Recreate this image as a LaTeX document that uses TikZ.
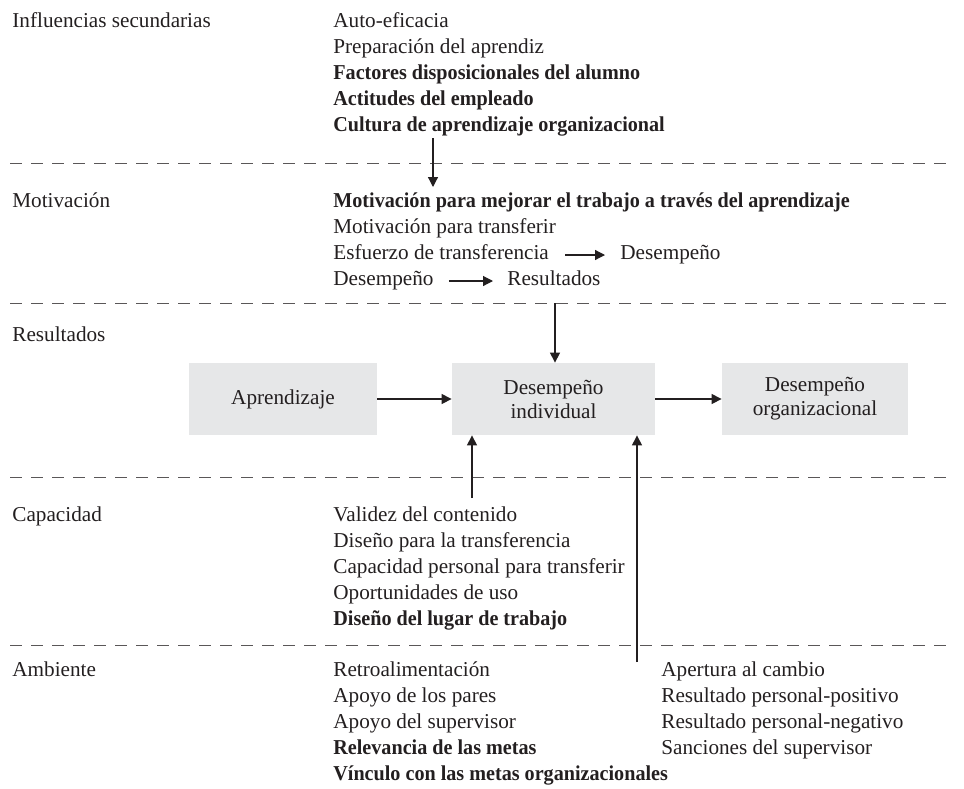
\documentclass[tikz,border=0pt]{standalone}
\usepackage{fontspec}
\setmainfont{Liberation Serif}[BoldFeatures={FakeStretch=0.95}]
\usetikzlibrary{arrows.meta}

\definecolor{boxgray}{HTML}{E6E7E8}
\definecolor{ink}{HTML}{231F20}

\begin{document}
\begin{tikzpicture}[
  x=0.5pt, y=-0.5pt,
  txt/.style={anchor=west, inner sep=0pt, text height=0.7em, text depth=0.25em, text=ink, font=\fontsize{10.6}{12.5}\selectfont},
  bld/.style={txt, font=\fontsize{10.6}{12.5}\selectfont\bfseries},
  box/.style={fill=boxgray, draw=none, inner sep=0pt, minimum height=36pt, align=center, text=ink, font=\fontsize{10.6}{12}\selectfont},
  e/.style={line width=0.6pt, draw=ink, -{Triangle[length=5pt,width=5pt]}},
  sep/.style={line width=0.5pt, draw=ink!75, dash pattern=on 6pt off 4.5pt}
]
\useasboundingbox (0,0) rectangle (964,788);

% --- Separators ---
\draw[sep] (10,163) -- (955,163);
\draw[sep] (10,303) -- (955,303);
\draw[sep] (10,477) -- (955,477);
\draw[sep] (10,645) -- (955,645);

% --- Row labels ---
\node[txt] (l1) at (12,23)  {Influencias secundarias};
\node[txt] (l2) at (12,203) {Motivación};
\node[txt] (l3) at (12,337) {Resultados};
\node[txt] (l4) at (12,517) {Capacidad};
\node[txt] (l5) at (12,672) {Ambiente};

% --- Influencias secundarias ---
\node[txt] (s1) at (333,23)  {Auto-eficacia};
\node[txt] (s2) at (333,49)  {Preparación del aprendiz};
\node[bld] (s3) at (333,75)  {Factores disposicionales del alumno};
\node[bld] (s4) at (333,101) {Actitudes del empleado};
\node[bld] (s5) at (333,127) {Cultura de aprendizaje organizacional};

% --- Motivacion ---
\node[bld] (m1) at (333,203) {Motivación para mejorar el trabajo a través del aprendizaje};
\node[txt] (m2) at (333,229) {Motivación para transferir};
\node[txt] (m3) at (333,255) {Esfuerzo de transferencia};
\node[txt] (m3r) at (620,255) {Desempeño};
\node[txt] (m4) at (333,281) {Desempeño};
\node[txt] (m4r) at (507,281) {Resultados};

% --- Resultados ---
\node[box, minimum width=94pt]    (apr) at (283,399)   {Aprendizaje};
\node[box, minimum width=101.5pt] (ind) at (553.5,399) {Desempeño\\individual};
\node[box, minimum width=93pt]    (org) at (815,399)   {Desempeño\\organizacional};

% --- Capacidad ---
\node[txt] (c1) at (333,517) {Validez del contenido};
\node[txt] (c2) at (333,543) {Diseño para la transferencia};
\node[txt] (c3) at (333,569) {Capacidad personal para transferir};
\node[txt] (c4) at (333,595) {Oportunidades de uso};
\node[bld] (c5) at (333,621) {Diseño del lugar de trabajo};

% --- Ambiente ---
\node[txt] (a1) at (333,672) {Retroalimentación};
\node[txt] (a2) at (333,698) {Apoyo de los pares};
\node[txt] (a3) at (333,724) {Apoyo del supervisor};
\node[bld] (a4) at (333,750) {Relevancia de las metas};
\node[bld] (a5) at (333,776) {Vínculo con las metas organizacionales};
\node[txt] (b1) at (661,672) {Apertura al cambio};
\node[txt] (b2) at (661,698) {Resultado personal-positivo};
\node[txt] (b3) at (661,724) {Resultado personal-negativo};
\node[txt] (b4) at (661,750) {Sanciones del supervisor};

% --- Free ends of the vertical arrows ---
\coordinate (q1) at (433,138);
\coordinate (q1b) at (433,187);
\coordinate (q2) at (555,303);
\coordinate (q3) at (472,498);
\coordinate (q4) at (637,662);

% --- Arrows ---
\path[e] (q1) -- (q1b);
\path[e, shorten <=8pt, shorten >=7.5pt] (m3.east) -- (m3r.west);
\path[e, shorten <=7.5pt, shorten >=7pt] (m4.east) -- (m4r.west);
\path[e] (q2) -- (q2 |- ind.north);
\path[e] (apr) -- (ind);
\path[e] (ind) -- (org);
\path[e] (q3) -- (q3 |- ind.south);
\path[e] (q4) -- (q4 |- ind.south);

\end{tikzpicture}
\end{document}
